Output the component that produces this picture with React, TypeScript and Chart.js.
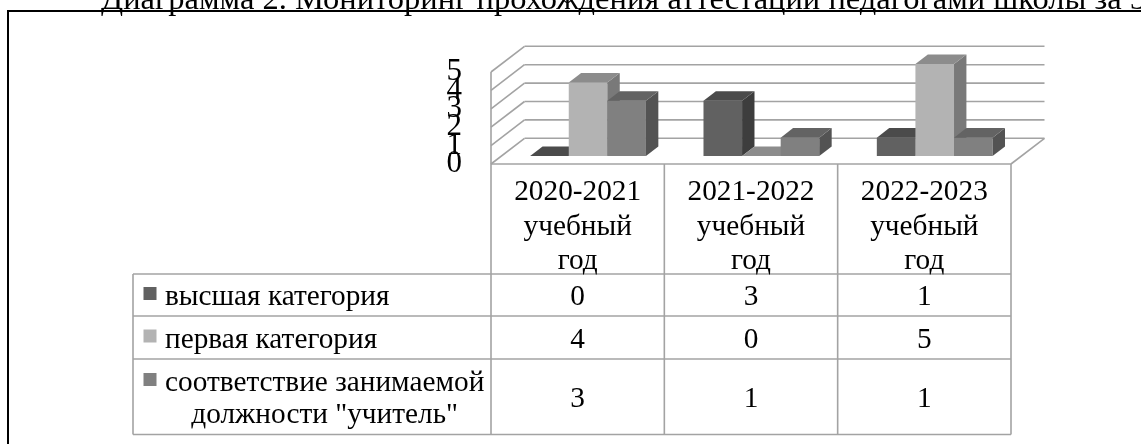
import React, { useEffect, useRef } from "react";
import { Chart, registerables } from "chart.js";

Chart.register(...registerables);

// ---------- data ----------
const titleText = "Диаграмма 2. Мониторинг прохождения аттестации педагогами школы за 3";
const categoryLines = [
  ["2020-2021", "учебный", "год"],
  ["2021-2022", "учебный", "год"],
  ["2022-2023", "учебный", "год"],
];
const categories = categoryLines.map((c) => c.join(" "));
const seriesLines = [
  ["высшая категория"],
  ["первая категория"],
  ["соответствие занимаемой", "должности \"учитель\""],
];
const highestCategory = [0, 3, 1];
const firstCategory = [4, 0, 5];
const matchingPosition = [3, 1, 1];
const yTicks = [0, 1, 2, 3, 4, 5];

// ---------- styles ----------
const FONT_FAMILY = '"Liberation Serif", "Times New Roman", serif';
const FONT_SIZE = 29.3;
const FONT = `${FONT_SIZE}px ${FONT_FAMILY}`;
const TITLE_SIZE = 32.5;
const GRID = "#a3a3a3";
const DEPTH = { x: 33.5, y: -25.7 };
const BAR_FRONT = 0.31;
const BAR_BACK = 0.68;
const SERIES_STYLE = [
  { front: "#616161", top: "#4b4b4b", side: "#3d3d3d" },
  { front: "#b3b3b3", top: "#8c8c8c", side: "#797979" },
  { front: "#808080", top: "#636363", side: "#535353" },
];
const LEGEND_LEFT = 133;
const HEADER_BASELINES = [200, 235, 269];
const ROW_BOUNDS = [274, 316, 359, 434.5];

function line(ctx: CanvasRenderingContext2D, x1: number, y1: number, x2: number, y2: number) {
  ctx.beginPath();
  ctx.moveTo(x1, y1);
  ctx.lineTo(x2, y2);
  ctx.stroke();
}

function poly(ctx: CanvasRenderingContext2D, pts: number[][], fill: string) {
  ctx.beginPath();
  ctx.moveTo(pts[0][0], pts[0][1]);
  for (let i = 1; i < pts.length; i++) ctx.lineTo(pts[i][0], pts[i][1]);
  ctx.closePath();
  ctx.fillStyle = fill;
  ctx.fill();
}

const threeD = {
  id: "threeD",
  beforeDatasetsDraw(chart: any) {
    const ctx: CanvasRenderingContext2D = chart.ctx;
    const ys = chart.scales.y;
    const area = chart.chartArea;
    ctx.save();
    // frame
    ctx.fillStyle = "#000";
    ctx.fillRect(7, 10, chart.width - 7, 2);
    ctx.fillRect(7, 10, 2, chart.height - 10);
    ctx.strokeStyle = GRID;
    ctx.lineWidth = 1.6;
    yTicks.forEach((v) => {
      const yf = ys.getPixelForValue(v);
      line(ctx, area.left, yf, area.left + DEPTH.x, yf + DEPTH.y);
      line(ctx, area.left + DEPTH.x, yf + DEPTH.y, area.right + DEPTH.x, yf + DEPTH.y);
    });
    line(ctx, area.right, area.bottom, area.right + DEPTH.x, area.bottom + DEPTH.y);
    line(ctx, area.left, ys.getPixelForValue(yTicks[yTicks.length - 1]), area.left, area.bottom);
    ctx.restore();
  },
  afterDatasetsDraw(chart: any) {
    const ctx: CanvasRenderingContext2D = chart.ctx;
    const fx = DEPTH.x * BAR_FRONT, fy = DEPTH.y * BAR_FRONT;
    const bx = DEPTH.x * BAR_BACK, by = DEPTH.y * BAR_BACK;
    ctx.save();
    const n = chart.data.labels.length;
    for (let j = 0; j < n; j++) {
      chart.data.datasets.forEach((ds: any, i: number) => {
        const el = chart.getDatasetMeta(i).data[j];
        const st = SERIES_STYLE[i];
        const x0 = el.x - el.width / 2;
        const x1 = el.x + el.width / 2;
        const yt = el.y;
        const yb = el.base;
        poly(ctx, [[x0 + fx, yt + fy], [x1 + fx, yt + fy], [x1 + fx, yb + fy], [x0 + fx, yb + fy]], st.front);
        poly(ctx, [[x1 + fx, yt + fy], [x1 + bx, yt + by], [x1 + bx, yb + by], [x1 + fx, yb + fy]], st.side);
        poly(ctx, [[x0 + fx, yt + fy], [x1 + fx, yt + fy], [x1 + bx, yt + by], [x0 + bx, yt + by]], st.top);
      });
    }
    ctx.restore();
  },
  afterDraw(chart: any) {
    const ctx: CanvasRenderingContext2D = chart.ctx;
    const xs = chart.scales.x;
    const area = chart.chartArea;
    const n = chart.data.labels.length;
    const step = xs.getPixelForValue(1) - xs.getPixelForValue(0);
    const colEdges: number[] = [];
    for (let j = 0; j <= n; j++) colEdges.push(xs.getPixelForValue(0) - step / 2 + j * step);
    const tableBottom = ROW_BOUNDS[ROW_BOUNDS.length - 1];
    ctx.save();
    ctx.strokeStyle = GRID;
    ctx.lineWidth = 1.6;
    line(ctx, colEdges[0], area.bottom, colEdges[n], area.bottom);
    ROW_BOUNDS.forEach((y) => line(ctx, LEGEND_LEFT, y, colEdges[n], y));
    colEdges.forEach((x) => line(ctx, x, area.bottom, x, tableBottom));
    line(ctx, LEGEND_LEFT, ROW_BOUNDS[0], LEGEND_LEFT, tableBottom);

    ctx.fillStyle = "#000";
    ctx.font = FONT;
    ctx.textBaseline = "alphabetic";
    ctx.textAlign = "center";
    categoryLines.forEach((lines, j) => {
      const cx = xs.getPixelForValue(j);
      lines.forEach((t, k) => ctx.fillText(t, cx, HEADER_BASELINES[k]));
    });
    chart.data.datasets.forEach((ds: any, i: number) => {
      const top = ROW_BOUNDS[i];
      const bot = ROW_BOUNDS[i + 1];
      const mid = (top + bot) / 2;
      ctx.fillStyle = "#000";
      ctx.textAlign = "center";
      ds.data.forEach((v: number, j: number) => {
        ctx.fillText(String(v), xs.getPixelForValue(j), mid + 10);
      });
      const lines = seriesLines[i];
      const lh = 31.5;
      const firstBase = mid + 10 - ((lines.length - 1) * lh) / 2;
      const textLeft = LEGEND_LEFT + 32;
      const w0 = ctx.measureText(lines[0]).width;
      ctx.textAlign = "left";
      ctx.fillText(lines[0], textLeft, firstBase);
      ctx.textAlign = "center";
      for (let k = 1; k < lines.length; k++) {
        ctx.fillText(lines[k], textLeft + w0 / 2, firstBase + k * lh);
      }
      ctx.fillStyle = SERIES_STYLE[i].front;
      ctx.fillRect(LEGEND_LEFT + 10.5, firstBase - 18, 13, 13);
    });
    ctx.restore();
  },
};

export default function App() {
  const ref = useRef<HTMLCanvasElement | null>(null);
  useEffect(() => {
    if (!ref.current) return;
    const chart = new Chart(ref.current, {
      type: "bar",
      data: {
        labels: categories,
        datasets: [
          { label: seriesLines[0].join(" "), data: highestCategory, backgroundColor: "rgba(0,0,0,0)" },
          { label: seriesLines[1].join(" "), data: firstCategory, backgroundColor: "rgba(0,0,0,0)" },
          { label: seriesLines[2].join(" "), data: matchingPosition, backgroundColor: "rgba(0,0,0,0)" },
        ],
      },
      options: {
        responsive: false,
        animation: false,
        layout: { padding: { left: 431, right: 130, top: 72, bottom: 280 } },
        datasets: { bar: { categoryPercentage: 0.668, barPercentage: 1 } },
        plugins: {
          legend: { display: false },
          tooltip: { enabled: false },
          title: { display: false },
        },
        scales: {
          x: { display: false, offset: true, grid: { display: false } },
          y: {
            min: 0,
            max: 5,
            afterFit: (s: any) => {
              s.width = 60;
            },
            grid: { display: false },
            border: { display: false },
            ticks: {
              stepSize: 1,
              autoSkip: false,
              padding: 21,
              color: "#000",
              font: { family: FONT_FAMILY, size: 31 },
            },
          },
        },
      },
      plugins: [threeD],
    } as any);
    return () => chart.destroy();
  }, []);
  return (
    <div style={{ position: "fixed", left: 0, top: 0, width: 1141, height: 444, background: "#fff", overflow: "hidden" }}>
      <canvas ref={ref} width={1141} height={444} style={{ width: 1141, height: 444, display: "block" }} />
      <div
        style={{
          position: "absolute",
          left: 101,
          top: -18.5,
          whiteSpace: "nowrap",
          fontFamily: FONT_FAMILY,
          fontSize: TITLE_SIZE,
          lineHeight: `${TITLE_SIZE}px`,
          color: "#000",
        }}
      >
        {titleText}
      </div>
    </div>
  );
}
